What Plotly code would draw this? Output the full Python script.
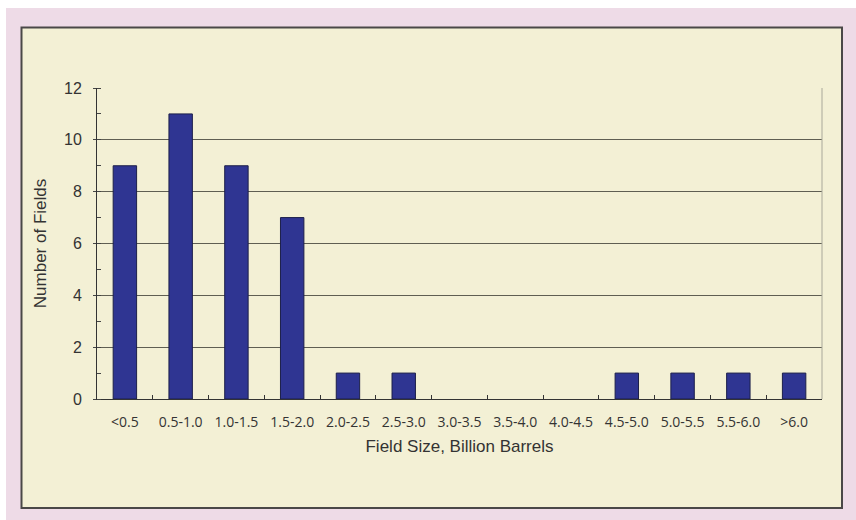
import plotly.graph_objects as go

# Field size classes (billion barrels) and number of fields in each class
size_classes = ["<0.5", "0.5-1.0", "1.0-1.5", "1.5-2.0", "2.0-2.5", "2.5-3.0",
                "3.0-3.5", "3.5-4.0", "4.0-4.5", "4.5-5.0", "5.0-5.5", "5.5-6.0", ">6.0"]
field_counts = [9, 11, 9, 7, 1, 1, 0, 0, 0, 1, 1, 1, 1]
y_ticks = [0, 2, 4, 6, 8, 10, 12]

W, H = 856, 520
L, R, T, B = 97, 822, 88, 399  # plot area in pixels


def px(x):
    return (x - L) / (R - L)


def py(y):
    return (B - y) / (B - T)


# empty classes get no outline so they don't leave a sliver on the axis
outline_widths = [1 if v > 0 else 0 for v in field_counts]

fig = go.Figure()
fig.add_trace(go.Bar(
    x=size_classes,
    y=field_counts,
    width=0.42,
    marker=dict(color="#2F3592", line=dict(color="#1C1F4A", width=outline_widths)),
    hoverinfo="x+y",
))

shapes = [
    # white strips along the top and left edges
    dict(type="rect", xref="paper", yref="paper", x0=px(0), x1=px(W), y0=py(0), y1=py(8),
         fillcolor="white", line=dict(width=0), layer="below"),
    dict(type="rect", xref="paper", yref="paper", x0=px(0), x1=px(6), y0=py(0), y1=py(H),
         fillcolor="white", line=dict(width=0), layer="below"),
    # cream panel
    dict(type="rect", xref="paper", yref="paper", x0=px(21.5), x1=px(842), y0=py(27.5), y1=py(508),
         fillcolor="#F3F0D5", line=dict(color="#4A4848", width=2), layer="below"),
    # right border of the plot area
    dict(type="line", xref="paper", yref="paper", x0=1, x1=1, y0=0, y1=1,
         line=dict(color="#A9A89A", width=1)),
]

fig.update_layout(
    width=W, height=H,
    margin=dict(l=L, r=W - R, t=T, b=H - B),
    paper_bgcolor="#EEDBE7",
    plot_bgcolor="#F3F0D5",
    showlegend=False,
    shapes=shapes,
    font=dict(family="Liberation Sans, Arial, sans-serif", color="#333333"),
    xaxis=dict(
        type="category",
        categoryorder="array",
        categoryarray=size_classes,
        tickson="boundaries",
        ticks="inside",
        ticklen=4,
        tickcolor="#333333",
        tickfont=dict(family="Open Sans, sans-serif", size=14, color="#333333"),
        ticklabelstandoff=10,
        showline=True,
        linecolor="#333333",
        linewidth=1,
        showgrid=False,
        zeroline=False,
        title=dict(text="Field Size, Billion Barrels",
                   font=dict(family="Liberation Sans, Arial, sans-serif", size=17, color="#333333"),
                   standoff=10),
    ),
    yaxis=dict(
        range=[0, 12],
        tickvals=y_ticks,
        ticks="outside",
        ticklen=3,
        tickcolor="#444444",
        tickfont=dict(family="Liberation Sans, Arial, sans-serif", size=16, color="#333333"),
        ticklabelstandoff=8,
        minor=dict(dtick=1, ticks="inside", ticklen=4, tickcolor="#444444", showgrid=False),
        showgrid=True,
        gridcolor="#5F5E52",
        gridwidth=1,
        showline=True,
        linecolor="#333333",
        linewidth=1,
        zeroline=False,
        title=dict(text="Number of Fields",
                   font=dict(family="Liberation Sans, Arial, sans-serif", size=17, color="#333333"),
                   standoff=13),
    ),
)

fig.write_html("out.html")
